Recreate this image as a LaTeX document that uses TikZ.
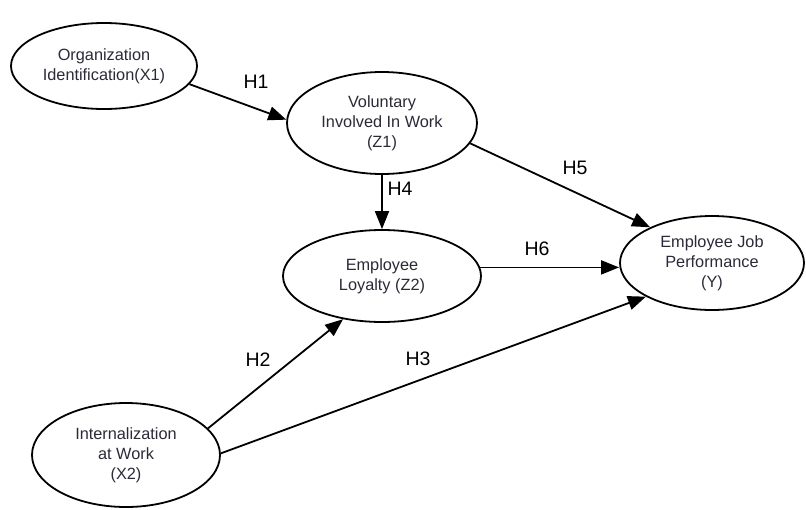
\documentclass[tikz,border=0pt]{standalone}
\usepackage{fontspec}
\setmainfont{Liberation Sans}
\usetikzlibrary{arrows.meta,shapes.geometric}
\definecolor{nodetext}{HTML}{2A2A38}
\tikzset{
  construct/.style={draw=black, line width=1.8pt, ellipse, inner sep=0pt,
    align=center, text=nodetext, font=\fontsize{16.3}{20}\selectfont},
  path/.style={draw=black, line width=1.8pt, -{Triangle[length=18pt,width=14pt]}},
  hlabel/.style={font=\fontsize{19.5}{24}\selectfont, text=black}
}
\begin{document}
\begin{tikzpicture}[x=1pt,y=-1pt]
\useasboundingbox (0,0) rectangle (806,509);
\node[construct, minimum width=186pt, minimum height=86pt] (X1) at (104,66) {Organization\\Identification(X1)\vphantom{g}};
\node[construct, minimum width=190pt, minimum height=102pt] (Z1) at (382,123) {Voluntary\\Involved In Work\\(Z1)};
\node[construct, minimum width=198pt, minimum height=92pt] (Z2) at (382,276) {Employee\\Loyalty (Z2)};
\node[construct, minimum width=184pt, minimum height=94pt] (Y) at (712,263) {Employee Job\\Performance\\(Y)};
\node[construct, minimum width=188pt, minimum height=104pt] (X2) at (126,455) {Internalization\\at Work\\(X2)};

\draw[path] (X1.-12) -- (Z1.178);
\draw[path] (Z1.south) -- (Z2.north);
\draw[path] (Z1.-13) -- (Y.150);
\draw[path] (Z2.5) -- (Z2.5 -| Y.west);
\draw[path] (X2.18) -- (Z2.228);
\draw[path] (X2.1) -- (Y.207);

\node[hlabel] (h1) at (256,82) {H1};
\node[hlabel] (h4) at (400,189) {H4};
\node[hlabel] (h5) at (575,168) {H5};
\node[hlabel] (h6) at (537,249) {H6};
\node[hlabel] (h2) at (258,360) {H2};
\node[hlabel] (h3) at (418,359) {H3};
\end{tikzpicture}
\end{document}
